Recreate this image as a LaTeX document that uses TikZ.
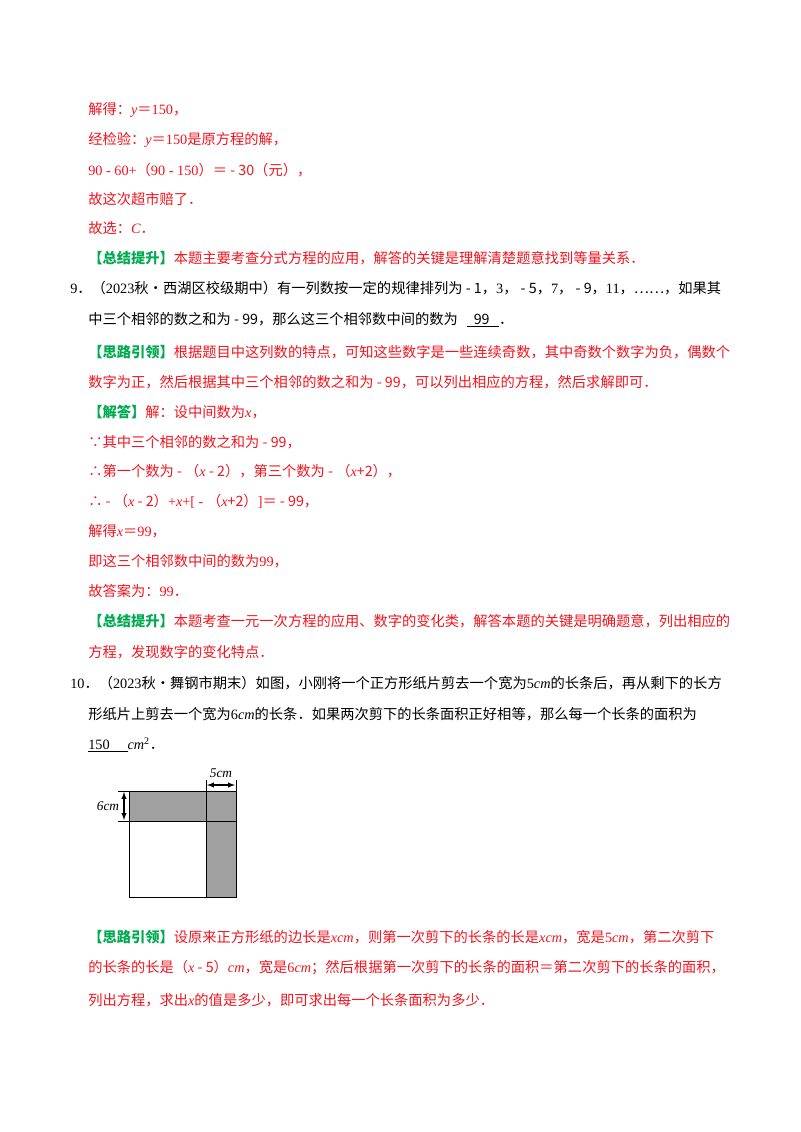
\documentclass[tikz,border=0pt]{standalone}
\usepackage{fontspec}
\setmainfont{Liberation Serif}
\newfontfamily\cjk{Noto Sans CJK SC}
\XeTeXinterchartokenstate=1
\newXeTeXintercharclass\cjkclass
\newcount\cc
\cc="4E00 \loop \XeTeXcharclass\cc=\cjkclass \advance\cc by 1 \ifnum\cc<"A000 \repeat
\cc="FF00 \loop \XeTeXcharclass\cc=\cjkclass \advance\cc by 1 \ifnum\cc<"FF20 \repeat
\cc="3000 \loop \XeTeXcharclass\cc=\cjkclass \advance\cc by 1 \ifnum\cc<"3040 \repeat
\XeTeXcharclass"2234=\cjkclass
\XeTeXcharclass"2235=\cjkclass
\XeTeXcharclass"2026=\cjkclass
\XeTeXcharclass"2022=\cjkclass
\XeTeXinterchartoks 0 \cjkclass = {\cjk}
\XeTeXinterchartoks 4095 \cjkclass = {\cjk}
\XeTeXinterchartoks \cjkclass 0 = {\rmfamily}
\definecolor{rd}{RGB}{240,20,30}
\definecolor{gn}{RGB}{0,170,80}
\definecolor{gy}{RGB}{160,160,160}
\newcommand{\gl}[1]{\textcolor{gn}{\bfseries #1}}
\newcommand{\vv}[1]{{\rmfamily\itshape #1}}
\begin{document}
\begin{tikzpicture}[x=0.75pt,y=-0.75pt,
  tl/.style={anchor=west,inner sep=0pt,font=\fontsize{10.7}{13}\selectfont},
  r/.style={tl,text=rd}, k/.style={tl,text=black}]
\useasboundingbox (0,0) rectangle (800,1132);
\node[r] (l1) at (88,110) {解得：\vv{y}＝150，};
\node[r] (l2) at (88,140) {经检验：\vv{y}＝150是原方程的解，};
\node[r] (l3) at (88,170) {90 - 60+（90 - 150）＝ - 30（元），};
\node[r] (l4) at (88,199) {故这次超市赔了．};
\node[r] (l5) at (88,228) {故选：\vv{C}．};
\node[r] (l6) at (88,258) {\gl{【总结提升】}本题主要考查分式方程的应用，解答的关键是理解清楚题意找到等量关系．};
\node[k] (q9) at (70,288) {9．（2023秋•西湖区校级期中）有一列数按一定的规律排列为 - 1，3， - 5，7， - 9，11，……，如果其};
\node[k] (q9b) at (88,320) {中三个相邻的数之和为 - 99，那么这三个相邻数中间的数为\ \ \ \underline{\ \ 99\ \ \ }．};
\node[r] (s1) at (88,352) {\gl{【思路引领】}根据题目中这列数的特点，可知这些数字是一些连续奇数，其中奇数个数字为负，偶数个};
\node[r] (s2) at (88,382) {数字为正，然后根据其中三个相邻的数之和为 - 99，可以列出相应的方程，然后求解即可．};
\node[r] (a1) at (88,412) {\gl{【解答】}解：设中间数为\vv{x}，};
\node[r] (a2) at (88,442) {∵其中三个相邻的数之和为 - 99，};
\node[r] (a3) at (88,471) {∴第一个数为 - （\vv{x} - 2），第三个数为 - （\vv{x}+2），};
\node[r] (a4) at (88,501) {∴ - （\vv{x} - 2）+\vv{x}+[ - （\vv{x}+2）]＝ - 99，};
\node[r] (a5) at (88,531) {解得\vv{x}＝99，};
\node[r] (a6) at (88,561) {即这三个相邻数中间的数为99，};
\node[r] (a7) at (88,591) {故答案为：99．};
\node[r] (z1) at (88,621) {\gl{【总结提升】}本题考查一元一次方程的应用、数字的变化类，解答本题的关键是明确题意，列出相应的};
\node[r] (z2) at (88,652) {方程，发现数字的变化特点．};
\node[k] (q10) at (70,683) {10．（2023秋•舞钢市期末）如图，小刚将一个正方形纸片剪去一个宽为5\vv{cm}的长条后，再从剩下的长方};
\node[k] (q10b) at (88,714) {形纸片上剪去一个宽为6\vv{cm}的长条．如果两次剪下的长条面积正好相等，那么每一个长条的面积为};
\node[k] (q10c) at (88,745) {\underline{150\ \ \ \ \ }\vv{cm}\textsuperscript{2}．};
% figure
\fill[gy] (129,791) rectangle (236,821);
\fill[gy] (206,791) rectangle (236,897);
\draw[line width=0.6pt] (129,791) rectangle (236,897);
\draw[line width=0.6pt] (129,821) -- (236,821) (206,791) -- (206,897);
\draw[line width=0.5pt] (118,791) -- (129,791) (118,821) -- (129,821);
\draw[line width=0.5pt] (206,780) -- (206,791) (236,780) -- (236,791);
\draw[<->,>=latex,line width=0.8pt] (124,792) -- (124,820);
\draw[<->,>=latex,line width=0.8pt] (207,785) -- (235,785);
\node[inner sep=0pt,font=\fontsize{10}{11}\selectfont\itshape] (six) at (108,806) {6cm};
\node[inner sep=0pt,font=\fontsize{10}{11}\selectfont\itshape] (five) at (221,773) {5cm};
\node[r] (t1) at (88,937) {\gl{【思路引领】}设原来正方形纸的边长是\vv{xcm}，则第一次剪下的长条的长是\vv{xcm}，宽是5\vv{cm}，第二次剪下};
\node[r] (t2) at (88,968) {的长条的长是（\vv{x} - 5）\vv{cm}，宽是6\vv{cm}；然后根据第一次剪下的长条的面积＝第二次剪下的长条的面积，};
\node[r] (t3) at (88,1000) {列出方程，求出\vv{x}的值是多少，即可求出每一个长条面积为多少．};
\end{tikzpicture}
\end{document}
